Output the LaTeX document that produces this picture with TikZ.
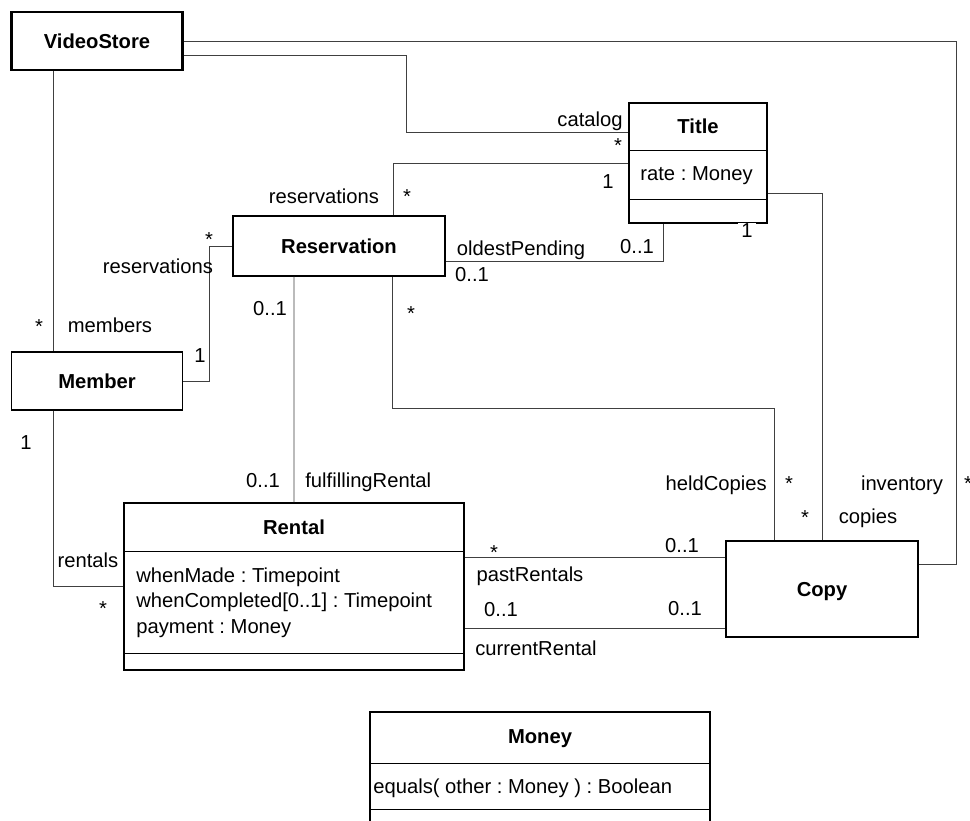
\documentclass[tikz,border=0pt]{standalone}
\usepackage{fontspec}
\setmainfont{Liberation Sans}
\frenchspacing
\usetikzlibrary{positioning}
\begin{document}
\begin{tikzpicture}[x=0.02cm, y=-0.02cm,
    font=\fontsize{11.5}{14.5}\selectfont,
    cls/.style={draw, line width=0.8pt, inner sep=0pt,
      font=\fontsize{11.5}{14.5}\selectfont\bfseries, text height=8.2pt, text depth=0pt},
    part/.style={line width=0.8pt},
    assoc/.style={draw=black!75, line width=0.55pt},
    lbl/.style={inner sep=0pt, anchor=base},
    clsname/.style={lbl, font=\fontsize{11.5}{14.5}\selectfont\bfseries},
    attr/.style={inner sep=0pt, anchor=base west}]
  \clip (0,0) rectangle (970,821);
  \fill[white] (0,0) rectangle (970,821);

  % Classes
  \node[cls, line width=1.4pt, minimum width=3.42cm, minimum height=1.16cm] (store) at (97,41) {VideoStore};
  \node[cls, minimum width=4.24cm, minimum height=1.2cm] (res) at (339,246) {Reservation};
  \node[cls, minimum width=3.42cm, minimum height=1.16cm] (member) at (97,381) {Member};
  \node[cls, minimum width=3.84cm, minimum height=1.92cm] (copy) at (822,589) {Copy};

  \node[cls, minimum width=2.76cm, minimum height=2.4cm] (title) at (698,163) {};
  \draw[part] ([yshift=-0.96cm]title.north west) -- ([yshift=-0.96cm]title.north east);
  \draw[part] ([yshift=-1.94cm]title.north west) -- ([yshift=-1.94cm]title.north east);
  \node[clsname] (titleName) at (698,133) {Title};
  \node[attr] (titleRate) at (640,180) {rate : Money};

  \node[cls, minimum width=6.8cm, minimum height=3.34cm] (rental) at (294,586.5) {};
  \draw[part] ([yshift=-0.98cm]rental.north west) -- ([yshift=-0.98cm]rental.north east);
  \draw[part] ([yshift=-3.02cm]rental.north west) -- ([yshift=-3.02cm]rental.north east);
  \node[clsname] (rentalName) at (294,534) {Rental};
  \node[attr] (rentalMade) at (136,582) {whenMade : Timepoint};
  \node[attr] (rentalDone) at (136,607.5) {whenCompleted[0..1] : Timepoint};
  \node[attr] (rentalPay) at (136,633) {payment : Money};

  \node[cls, minimum width=6.8cm, minimum height=2.96cm] (money) at (540,786) {};
  \draw[part] ([yshift=-1.04cm]money.north west) -- ([yshift=-1.04cm]money.north east);
  \draw[part] ([yshift=-1.96cm]money.north west) -- ([yshift=-1.96cm]money.north east);
  \node[clsname] (moneyName) at (540,743) {Money};
  \node[attr] (moneyEquals) at (373,793) {equals( other : Money ) : Boolean};

  % Associations
  \coordinate (invBend) at (956,564);
  \draw[assoc] (store.east) -| (invBend) -- (invBend -| copy.east);

  \coordinate (catBend) at (406,132);
  \draw[assoc] ([yshift=-0.28cm]store.east) -| (catBend) -- (catBend -| title.west);

  \draw[assoc] ([xshift=-0.88cm]store.south) -- ([xshift=-0.88cm]member.north);
  \draw[assoc] ([xshift=1.08cm]res.north) |- (title.west);
  \draw[assoc] ([yshift=-0.3cm]res.east) -| ([xshift=-0.7cm]title.south);
  \draw[assoc] ([yshift=-0.6cm]title.east) -| (copy.north);

  \coordinate (heldBend) at (774,408);
  \draw[assoc] ([xshift=1.06cm]res.south) |- (heldBend) -- (heldBend |- copy.north);

  \draw[assoc] (member.east) -- ++(26,0) |- (res.west);
  \draw[assoc] ([xshift=-0.88cm]member.south) |- (rental.west);
  \draw[assoc] ([xshift=-0.9cm]res.south) -- (rental.north);

  \draw[assoc] ([yshift=0.59cm]rental.east) coordinate (pastEnd) -- (pastEnd -| copy.west);
  \draw[assoc] ([yshift=-0.83cm]rental.east) coordinate (curEnd) -- (curEnd -| copy.west);

  % Role names and multiplicities
  \node[lbl] (catRole) at (590,127) {catalog};
  \node[lbl] (catMult) at (618,153) {*};
  \node[lbl] (resRole) at (324,203) {reservations};
  \node[lbl] (resMult) at (407,203) {*};
  \node[lbl] (titleMult) at (608,188) {1};
  \node[lbl] (oldRole) at (521,255) {oldestPending};
  \node[lbl] (oldMultT) at (637,253) {0..1};
  \node[lbl] (oldMultR) at (472,281) {0..1};
  \node[lbl, fill=white, inner xsep=2pt] (copyTitleMult) at (747,237) {1};
  \node[lbl] (memResMult) at (209,246) {*};
  \node[lbl] (memResRole) at (158,273) {reservations};
  \node[lbl] (memberMult) at (39,333) {*};
  \node[lbl] (memberRole) at (110,332) {members};
  \node[lbl] (memResOne) at (200,362) {1};
  \node[lbl] (resRentalMult) at (270,315) {0..1};
  \node[lbl] (memRentalOne) at (26,449) {1};
  \node[lbl] (fulfilMult) at (263,487) {0..1};
  \node[lbl, anchor=base west] (fulfilRole) at (305,487) {fulfillingRental};
  \node[lbl] (rentalsRole) at (88,567) {rentals};
  \node[lbl] (rentalsMult) at (103,615) {*};
  \node[lbl] (heldMult) at (411,320) {*};
  \node[lbl, anchor=base east] (heldRole) at (767,490) {heldCopies};
  \node[lbl] (heldCopyMult) at (789,490) {*};
  \node[lbl] (invRole) at (902,490) {inventory};
  \node[lbl] (invMult) at (968,490) {*};
  \node[lbl] (copiesMult) at (805,524) {*};
  \node[lbl] (copiesRole) at (868,523) {copies};
  \node[lbl] (pastMult) at (494,559) {*};
  \node[lbl] (pastCopyMult) at (682,552) {0..1};
  \node[lbl] (pastRole) at (530,581) {pastRentals};
  \node[lbl] (curMult) at (501,616) {0..1};
  \node[lbl] (curCopyMult) at (685,615) {0..1};
  \node[lbl] (curRole) at (536,655) {currentRental};
\end{tikzpicture}
\end{document}
